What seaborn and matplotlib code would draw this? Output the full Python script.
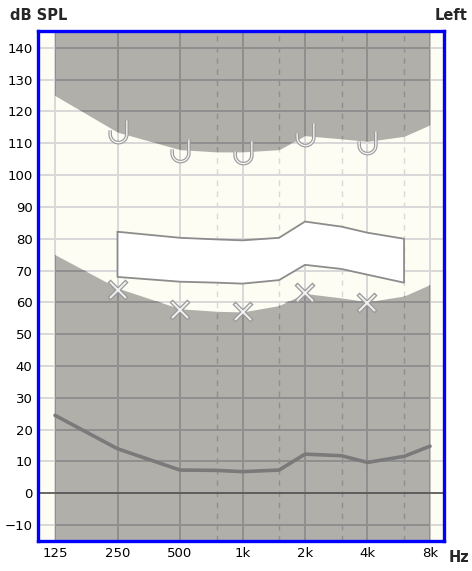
import numpy as np
import matplotlib
matplotlib.use('Agg')
import matplotlib.pyplot as plt
from matplotlib.path import Path
from matplotlib.transforms import TransformedPath
import seaborn as sns

sns.set_style('white')
plt.rcParams['font.family'] = ['DejaVu Sans']

# frequencies (Hz) and audiogram data
freqs = [125, 250, 500, 750, 1000, 1500, 2000, 3000, 4000, 6000, 8000]
upper_limit = [125, 113.5, 108, 107.3, 107.3, 108, 112.4, 111.4, 110.6, 112.2, 115.8]
lower_limit = [75, 64.5, 58, 57.2, 57, 59, 62.8, 61.4, 60.2, 62, 65.6]
threshold = [24.5, 14, 7.3, 7.2, 6.8, 7.3, 12.3, 11.8, 9.7, 11.6, 14.8]

band_freqs = [250, 500, 750, 1000, 1500, 2000, 3000, 4000, 6000]
band_top = [82.2, 80.3, 79.8, 79.5, 80.3, 85.4, 83.8, 81.9, 80]
band_bottom = [68, 66.5, 66.2, 65.9, 67, 71.8, 70.5, 68.7, 66.2]

x_freqs = [250, 500, 1000, 2000, 4000]
x_values = [63.8, 57.5, 56.9, 63, 59.9]
u_values = [114, 108, 107.3, 112.8, 110.3]

xtick_freqs = [125, 250, 500, 1000, 2000, 4000, 8000]
xtick_labels = ['125', '250', '500', '1k', '2k', '4k', '8k']
dashed_freqs = [750, 1500, 3000, 6000]
yticks = list(range(-10, 150, 10))

cream = '#fdfdf4'
gray = '#b1afa9'
light_grid = '#d9d9d9'
dark_grid = '#8f8f8f'

fig = plt.figure(figsize=(4.72, 5.71), dpi=100)
ax = fig.add_axes([38 / 472, 1 - 541 / 571, 406 / 472, 510 / 571])
ax.set_facecolor(cream)
ax.set_xscale('log')
ax.set_xlim(103.5, 9345)
ax.set_ylim(-15, 145.3)


def draw_grid(color, z, clip=None):
    lines = []
    for y in yticks:
        lines.append(ax.axhline(y, color=color, lw=1.4, zorder=z))
    for f in xtick_freqs:
        lines.append(ax.axvline(f, color=color, lw=1.4, zorder=z))
    for f in dashed_freqs:
        lines.append(ax.axvline(f, color=color, lw=1.0, ls=(0, (4, 4)), zorder=z))
    if clip is not None:
        for ln in lines:
            ln.set_clip_path(clip)
    return lines


# light grid on the cream, darker grid clipped to the gray areas
draw_grid(light_grid, 1)

up = ax.fill_between(freqs, upper_limit, 145.3, color=gray, lw=0, zorder=2)
lo = ax.fill_between(freqs, -15, lower_limit, color=gray, lw=0, zorder=2)

for poly in (up, lo):
    clip = TransformedPath(poly.get_paths()[0], ax.transData)
    draw_grid(dark_grid, 3, clip=clip)

# zero line
ax.axhline(0, color='#555555', lw=1.2, zorder=4)

# speech band
ax.fill_between(band_freqs, band_bottom, band_top, color='white', lw=0, zorder=5)
bx = band_freqs + band_freqs[::-1] + [band_freqs[0]]
by = band_top + band_bottom[::-1] + [band_top[0]]
ax.plot(bx, by, color='#8c8c8c', lw=1.3, zorder=6)

# threshold line
sns.lineplot(x=freqs, y=threshold, color='#7a7a7a', lw=2.6, ax=ax, zorder=7)

# X markers
ax.plot(x_freqs, x_values, ls='none', marker='x', ms=13, mew=3.2, color='#9a9a9a', zorder=8)
ax.plot(x_freqs, x_values, ls='none', marker='x', ms=12, mew=1.4, color='#f2f2f2', zorder=9)

# U markers
t = np.linspace(np.pi, 2 * np.pi, 20)
verts = [(-0.75, 0.1)] + [(0.75 * np.cos(a), -0.25 + 0.75 * np.sin(a)) for a in t] + [(0.75, 1.0)]
u_path = Path(verts)
ax.plot(x_freqs, u_values, ls='none', marker=u_path, ms=16, mew=2.6, mfc='none', color='#9a9a9a', zorder=8)
ax.plot(x_freqs, u_values, ls='none', marker=u_path, ms=16, mew=1.0, mfc='none', color='#f2f2f2', zorder=9)

ax.set_xticks(xtick_freqs)
ax.set_xticklabels(xtick_labels)
ax.minorticks_off()
ax.set_yticks(yticks)
ax.tick_params(length=0, labelsize=9.5, colors='black', pad=4)
ax.set_xlabel('')
ax.set_ylabel('')
for s in ax.spines.values():
    s.set_color('#0000ff')
    s.set_linewidth(2.4)
    s.set_zorder(20)

fig.text(10 / 472, 1 - 15 / 571, 'dB SPL', fontsize=10.5, fontweight='bold', va='center', ha='left')
fig.text(468 / 472, 1 - 15 / 571, 'Left', fontsize=10.5, fontweight='bold', va='center', ha='right')
fig.text(469 / 472, 1 - 557 / 571, 'Hz', fontsize=10.5, fontweight='bold', va='center', ha='right')

fig.savefig('out.png', dpi=100)
